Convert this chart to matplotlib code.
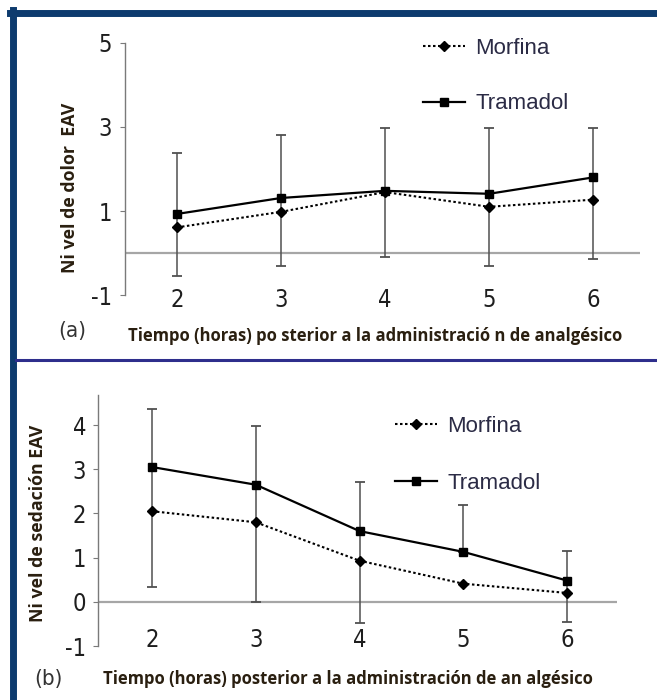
import numpy as np
import matplotlib
matplotlib.use("Agg")
import matplotlib.pyplot as plt
from matplotlib import font_manager
from matplotlib.lines import Line2D

# datos
hours = [2, 3, 4, 5, 6]
hour_labels = ["2", "3", "4", "5", "6"]

dolor_morfina = [0.61, 0.98, 1.45, 1.10, 1.27]
dolor_tramadol = [0.93, 1.31, 1.48, 1.41, 1.80]
dolor_err_hi = [2.38, 2.82, 2.98, 2.98, 2.98]
dolor_err_lo = [-0.55, -0.31, -0.10, -0.31, -0.14]

sedacion_morfina = [2.05, 1.80, 0.93, 0.41, 0.20]
sedacion_tramadol = [3.05, 2.65, 1.60, 1.13, 0.48]
sedacion_err_hi = [4.36, 3.98, 2.70, 2.20, 1.14]
sedacion_err_lo = [0.34, 0.00, -0.47, 1.13, -0.45]

dolor_yticks = [-1, 1, 3, 5]
sedacion_yticks = [-1, 0, 1, 2, 3, 4]

# fuente estrecha para los numeros si existe
fonts = font_manager.fontManager.ttflist
names = {f.name for f in fonts}
if "Liberation Sans Narrow" in names:
    num_font = dict(family="Liberation Sans Narrow")
elif any(f.name == "DejaVu Sans" and "condensed" in str(f.stretch).lower() for f in fonts):
    num_font = dict(family="DejaVu Sans", stretch="condensed")
else:
    num_font = dict(family="Liberation Sans")
label_font = "Open Sans"

W, H = 657, 700
fig = plt.figure(figsize=(W / 100, H / 100), dpi=100)
fig.patch.set_facecolor("white")

# marco azul
navy = "#0d3b6e"
fig.add_artist(Line2D([13 / W, 13 / W], [0, 1 - 10 / H], color=navy, lw=5, transform=fig.transFigure))
fig.add_artist(Line2D([10 / W, 1], [1 - 13 / H, 1 - 13 / H], color=navy, lw=5, transform=fig.transFigure))
fig.add_artist(Line2D([16 / W, 1], [1 - 360 / H, 1 - 360 / H], color="#2e2e8c", lw=2.2, transform=fig.transFigure))


def panel(rect, morf, tram, lo, hi, yticks, ylim, xlim, ypad, xpad):
    ax = fig.add_axes(rect)
    ax.set_xlim(*xlim)
    ax.set_ylim(*ylim)
    for s in ["top", "right", "bottom"]:
        ax.spines[s].set_visible(False)
    ax.spines["left"].set_color("#7a7a7a")
    ax.spines["left"].set_linewidth(1.0)
    ax.axhline(0, color="#a6a6a6", lw=1.6, zorder=1)
    lo = np.array(lo)
    hi = np.array(hi)
    ax.errorbar(hours, lo, yerr=[np.zeros(len(lo)), hi - lo], fmt="none",
                ecolor="#505050", elinewidth=1.1, capsize=3.4, capthick=1.3, zorder=2)
    ax.plot(hours, morf, color="black", lw=1.5, ls=(0, (1.2, 1.2)),
            marker="D", ms=5, label="Morfina", zorder=3)
    ax.plot(hours, tram, color="black", lw=1.6, ls="-",
            marker="s", ms=6, label="Tramadol", zorder=4)
    ax.set_yticks(yticks)
    ax.set_yticklabels([str(t) for t in yticks])
    ax.set_xticks(hours)
    ax.set_xticklabels(hour_labels)
    ax.tick_params(axis="y", length=3.5, color="#7a7a7a", pad=ypad,
                   labelsize=17, labelcolor="#1e1e1e")
    ax.tick_params(axis="x", length=0, pad=xpad, labelsize=17, labelcolor="#1e1e1e")
    for lab in ax.get_xticklabels() + ax.get_yticklabels():
        lab.set_fontproperties(font_manager.FontProperties(size=17, **num_font))
    ax.patch.set_alpha(0)
    return ax


ax_a = panel([125 / W, 1 - 295 / H, 515 / W, 252 / H],
             dolor_morfina, dolor_tramadol, dolor_err_lo, dolor_err_hi,
             dolor_yticks, (-1, 5), (1.5, 6.45), 6, -5)
ax_b = panel([98 / W, 1 - 646 / H, 519 / W, 251 / H],
             sedacion_morfina, sedacion_tramadol, sedacion_err_lo, sedacion_err_hi,
             sedacion_yticks, (-1, 4.68), (1.48, 6.48), 5, -13)

leg_kw = dict(frameon=False, loc="upper left", borderpad=0, borderaxespad=0,
              handlelength=1.9, handletextpad=0.45, numpoints=1,
              prop={"family": "Liberation Sans", "size": 16}, labelcolor="#2b2b45")
ax_a.legend(bbox_to_anchor=(423 / W, 1 - 38 / H), bbox_transform=fig.transFigure,
            labelspacing=1.55, **leg_kw)
ax_b.legend(bbox_to_anchor=(395 / W, 1 - 416 / H), bbox_transform=fig.transFigure,
            labelspacing=1.6, **leg_kw)

txt_color = "#2a1f10"
fig.text(70 / W, 1 - 188 / H, "Ni vel de dolor  EAV", rotation=90, ha="center", va="center",
         fontsize=12.8, fontweight="bold", family=label_font, color=txt_color)
fig.text(375 / W, 1 - 336 / H, "Tiempo (horas) po sterior a la administració n de analgésico",
         ha="center", va="center", fontsize=12, fontweight="bold", family=label_font, color=txt_color)
fig.text(72 / W, 1 - 331 / H, "(a)", ha="center", va="center", fontsize=16,
         color="#333333", **num_font)

fig.text(38 / W, 1 - 523 / H, "Ni vel de sedación EAV", rotation=90, ha="center", va="center",
         fontsize=12.8, fontweight="bold", family=label_font, color=txt_color)
fig.text(348 / W, 1 - 679 / H, "Tiempo (horas) posterior a la administración de an algésico",
         ha="center", va="center", fontsize=12, fontweight="bold", family=label_font, color=txt_color)
fig.text(48 / W, 1 - 679 / H, "(b)", ha="center", va="center", fontsize=16,
         color="#333333", **num_font)

fig.savefig("out.png", dpi=100, facecolor="white")
